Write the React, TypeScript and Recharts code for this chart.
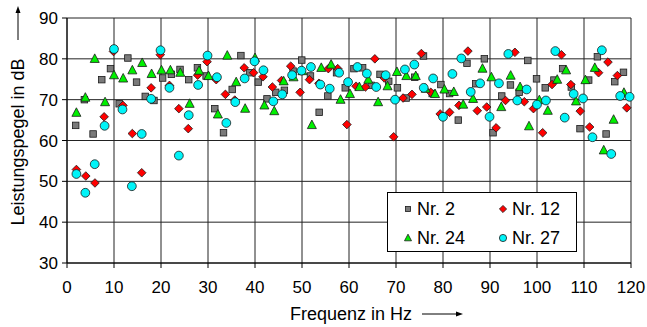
import React from 'react';
import { ScatterChart, Scatter, XAxis, YAxis, CartesianGrid, Label } from 'recharts';

// Frequenz (Hz) und Leistungspegel (dB) je Messung
const freqNr2 = [
  1.85, 3.7, 5.55, 7.4, 9.25, 11.1, 12.95, 14.8, 16.65, 18.5, 20.35, 22.2, 24.05, 25.9, 27.75, 29.6,
  31.45, 33.3, 35.15, 37.0, 38.85, 40.7, 42.55, 44.4, 46.25, 48.1, 49.95, 51.8, 53.65, 55.5, 57.35,
  59.2, 61.05, 62.9, 64.75, 66.6, 68.45, 70.3, 72.15, 74.0, 75.85, 77.7, 79.55, 81.4, 83.25, 85.1,
  86.95, 88.8, 90.65, 92.5, 94.35, 96.2, 98.05, 99.9, 101.75, 103.6, 105.45, 107.3, 109.15, 111.0,
  112.85, 114.7, 116.55, 118.4,
];
const pegelNr2 = [
  63.7, 70, 61.6, 74.9, 77.6, 69, 80.2, 74.3, 70.8, 69.8, 75.3, 76.2, 77.4, 74.9, 77.8, 75.8, 67.8,
  61.9, 72.5, 80.8, 76.6, 74.3, 70.2, 71.8, 72.3, 77, 79.7, 75.8, 66.9, 70.9, 76.6, 72.9, 77.6, 77.8,
  73.5, 76.2, 74.5, 72.9, 70.4, 75.5, 80.7, 71.5, 73.7, 71.5, 65, 78.9, 73.9, 80, 61.9, 70.9, 73.6,
  71.8, 79.6, 75.1, 72.9, 74.8, 77.6, 73.1, 62.9, 74.8, 80.5, 61.6, 74.4, 76.7,
];

const freqNr12 = [
  2.0, 4.0, 5.95, 7.9, 9.9, 11.9, 13.9, 15.9, 17.9, 19.85, 21.8, 23.8, 25.8, 27.8, 29.8, 31.75, 33.7,
  35.7, 37.7, 39.7, 41.7, 43.7, 45.65, 47.6, 49.6, 51.6, 53.6, 55.6, 57.6, 59.55, 61.5, 63.5, 65.5,
  67.5, 69.5, 71.5, 73.4, 75.4, 77.4, 79.4, 81.4, 83.4, 85.3, 87.3, 89.3, 91.3, 93.3, 95.3, 97.3,
  99.25, 101.2, 103.2, 105.2, 107.2, 109.2, 111.2, 113.1, 115.1, 117.1, 119.1,
];
const pegelNr12 = [
  52.9, 51.3, 49.6, 65.8, 81.8, 68.6, 61.7, 52.1, 72.9, 81, 73.5, 67.8, 62.9, 76, 79.3, 74.9, 71.3,
  69.9, 77.8, 76.6, 75.6, 73.1, 74.7, 78.2, 71.8, 74.9, 74, 77.6, 77.6, 63.9, 73.3, 73.1, 80, 75.3,
  60.9, 70.4, 71.3, 81.3, 71.8, 66.5, 66.9, 68.6, 81.9, 67.3, 68.2, 63.1, 69.8, 81.6, 69.5, 67.8,
  61.9, 73.7, 81, 73.7, 67.2, 63.3, 76.6, 79.2, 75.9, 68,
];

const freqNr24 = [
  2.0, 3.9, 5.9, 8.1, 10.0, 11.95, 13.9, 16.0, 18.0, 20.1, 22.0, 24.1, 26.1, 28.1, 30.1, 32.1, 34.1,
  36.0, 37.9, 40.0, 42.0, 44.1, 46.1, 48.2, 50.1, 52.1, 54.1, 56.2, 58.2, 60.2, 62.2, 64.1, 66.2,
  68.2, 70.2, 72.2, 74.2, 76.3, 78.3, 80.3, 82.3, 84.3, 86.4, 88.4, 90.3, 92.4, 94.4, 96.4, 98.3,
  100.5, 102.3, 104.3, 106.2, 108.3, 110.3, 112.3, 114.2, 116.3, 118.5,
];
const pegelNr24 = [
  66.8, 70.5, 80, 69.4, 76, 75.2, 77.2, 79, 76.3, 77.2, 77.2, 76.6, 69, 77.1, 75.8, 66.4, 80.8, 74.3,
  67.8, 80.2, 68.6, 67.2, 74.5, 75.5, 77, 63.8, 77.8, 78.6, 70, 71.4, 73.1, 74.9, 69.4, 73.3, 76.8,
  75.8, 75.8, 72.7, 71.4, 72.5, 71.9, 68.8, 70.2, 77.6, 75.5, 68.2, 75.9, 73.1, 63.5, 69.9, 67.3,
  74.9, 77.2, 69.6, 74.8, 77.8, 57.6, 65.1, 71.7,
];

const freqNr27 = [
  2.0, 3.9, 5.9, 8.0, 10.0, 11.8, 13.8, 15.9, 17.9, 19.9, 21.8, 23.8, 25.9, 27.9, 29.9, 31.9, 33.9,
  35.8, 37.8, 39.9, 41.8, 43.9, 45.8, 47.9, 49.9, 51.9, 53.9, 55.9, 57.9, 59.8, 61.8, 63.8, 65.8,
  67.8, 69.8, 71.9, 73.9, 75.9, 77.9, 80.0, 82.0, 83.9, 85.9, 87.9, 89.9, 91.9, 93.9, 95.8, 97.8,
  100.0, 101.9, 103.9, 105.9, 107.8, 109.8, 111.8, 113.8, 115.8, 117.7, 119.7,
];
const pegelNr27 = [
  51.8, 47.2, 54.2, 63.6, 82.4, 67.6, 48.8, 61.6, 70.2, 82.1, 72.9, 56.3, 66.2, 73.6, 80.8, 75.5,
  64.3, 69.4, 75.2, 79.4, 77.2, 69.6, 71.3, 76, 77.1, 78, 73.7, 72.7, 76.6, 74.3, 78, 76.4, 73.1, 76,
  70, 77.4, 78.6, 72.9, 75.2, 65.8, 76.3, 80.1, 71.9, 74, 65.8, 74, 81.2, 69.8, 72.5, 68.8, 69.8,
  81.9, 65.6, 71.4, 70.3, 60.8, 82.1, 56.7, 70.9, 70.7,
];

const xTicks = [0, 10, 20, 30, 40, 50, 60, 70, 80, 90, 100, 110, 120];
const yTicks = [30, 40, 50, 60, 70, 80, 90];

const FONT = '"Liberation Sans", Arial, sans-serif';
const STROKE = '#1a1a1a';

const toPoints = (f: number[], v: number[]) => f.map((x, i) => ({ f: x, dB: v[i] }));

// marker shapes
const square = (fill: string, s: number) => (p: any) =>
  <rect x={p.cx - s / 2} y={p.cy - s / 2} width={s} height={s} fill={fill} stroke={STROKE} strokeWidth={0.8} />;
const diamond = (fill: string, r: number) => (p: any) =>
  <polygon points={`${p.cx},${p.cy - r} ${p.cx + r},${p.cy} ${p.cx},${p.cy + r} ${p.cx - r},${p.cy}`} fill={fill} stroke={STROKE} strokeWidth={0.8} />;
const triangle = (fill: string, w: number) => (p: any) =>
  <polygon points={`${p.cx},${p.cy - w * 0.55} ${p.cx + w / 2},${p.cy + w * 0.4} ${p.cx - w / 2},${p.cy + w * 0.4}`} fill={fill} stroke={STROKE} strokeWidth={0.8} />;
const circle = (fill: string, r: number) => (p: any) =>
  <circle cx={p.cx} cy={p.cy} r={r} fill={fill} stroke={STROKE} strokeWidth={0.8} />;

const series = [
  { name: 'Nr. 2', data: toPoints(freqNr2, pegelNr2), shape: square('#7a7a7a', 6.5), icon: square('#7a7a7a', 5) },
  { name: 'Nr. 12', data: toPoints(freqNr12, pegelNr12), shape: diamond('#ff0000', 4.3), icon: diamond('#ff0000', 3.6) },
  { name: 'Nr. 24', data: toPoints(freqNr24, pegelNr24), shape: triangle('#00f000', 9), icon: triangle('#00f000', 7) },
  { name: 'Nr. 27', data: toPoints(freqNr27, pegelNr27), shape: circle('#00f4f8', 4.4), icon: circle('#00f4f8', 3.6) },
];

// legend box sits on top of the plot, drawn as plain html
const LegendBox = () => (
  <div style={{ position: 'absolute', left: 387, top: 192, width: 190, height: 60, boxSizing: 'border-box', border: '1px solid #000', background: '#fff', fontFamily: FONT, fontSize: 18, color: '#000' }}>
    {series.map((s, i) => {
      const col = i % 2;
      const row = Math.floor(i / 2);
      const Icon = s.icon;
      return (
        <div key={s.name} style={{ position: 'absolute', left: 14 + col * 95, top: 6 + row * 29, height: 20, display: 'flex', alignItems: 'center', whiteSpace: 'nowrap' }}>
          <svg width={12} height={12} style={{ marginRight: 3 }}>
            <Icon cx={6} cy={6} />
          </svg>
          <span>{s.name}</span>
        </div>
      );
    })}
  </div>
);

const Arrow = ({ x1, y1, x2, y2 }: { x1: number; y1: number; x2: number; y2: number }) => {
  const dx = x2 - x1;
  const dy = y2 - y1;
  const len = Math.hypot(dx, dy);
  const ux = dx / len;
  const uy = dy / len;
  const bx = x2 - ux * 7;
  const by = y2 - uy * 7;
  return (
    <g>
      <line x1={x1} y1={y1} x2={bx} y2={by} stroke="#000" strokeWidth={1} />
      <polygon points={`${x2},${y2} ${bx - uy * 2.5},${by + ux * 2.5} ${bx + uy * 2.5},${by - ux * 2.5}`} fill="#000" />
    </g>
  );
};

export default function App() {
  return (
    <div style={{ position: 'absolute', left: 0, top: 0, width: 647, height: 327, background: '#fff' }}>
      <ScatterChart width={647} height={327} margin={{ top: 18, right: 16, bottom: 0, left: 0 }}>
        <CartesianGrid stroke="#222" strokeWidth={1} />
        <XAxis
          type="number"
          dataKey="f"
          domain={[0, 120]}
          ticks={xTicks}
          interval={0}
          height={64}
          tickSize={5}
          tickMargin={13}
          axisLine={{ stroke: '#000' }}
          tickLine={{ stroke: '#000' }}
          tick={{ fill: '#000', fontSize: 17, fontFamily: FONT }}
        >
          <Label
            content={() => (
              <g>
                <text x={351} y={320} textAnchor="middle" fontFamily={FONT} fontSize={18} fill="#000">Frequenz in Hz</text>
                <Arrow x1={422} y1={314} x2={463} y2={314} />
              </g>
            )}
          />
        </XAxis>
        <YAxis
          type="number"
          dataKey="dB"
          domain={[30, 90]}
          ticks={yTicks}
          interval={0}
          width={67}
          tickSize={5}
          tickMargin={4}
          axisLine={{ stroke: '#000' }}
          tickLine={{ stroke: '#000' }}
          tick={{ fill: '#000', fontSize: 17, fontFamily: FONT }}
        >
          <Label
            content={() => (
              <g>
                <text x={0} y={0} transform="translate(24,142) rotate(-90)" textAnchor="middle" fontFamily={FONT} fontSize={18} fill="#000">
                  Leistungspegel in dB
                </text>
                <Arrow x1={18} y1={40} x2={18} y2={6} />
              </g>
            )}
          />
        </YAxis>
        {series.map((s) => (
          <Scatter key={s.name} name={s.name} data={s.data} shape={s.shape} isAnimationActive={false} />
        ))}
      </ScatterChart>
      <LegendBox />
    </div>
  );
}
